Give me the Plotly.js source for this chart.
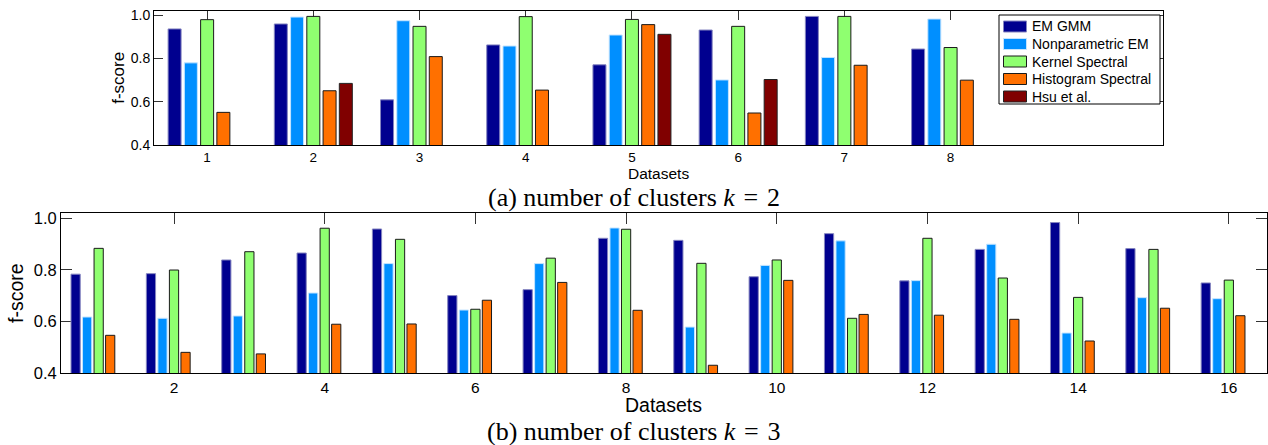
<!DOCTYPE html>
<html>
<head>
<meta charset="utf-8">
<script src="https://cdn.plot.ly/plotly-3.0.1.min.js"></script>
<style>
  html, body { margin: 0; padding: 0; background: #fff; }
  #chart { width: 1268px; height: 445px; }
</style>
</head>
<body>
<div id="chart"></div>
<script>
// ---------- data ----------
const seriesNames = ["EM GMM", "Nonparametric EM", "Kernel Spectral", "Histogram Spectral", "Hsu et al."];

// (a) k = 2
const datasetsA = [1, 2, 3, 4, 5, 6, 7, 8];
const emGmmA          = [0.937, 0.960, 0.609, 0.863, 0.771, 0.932, 0.995, 0.844];
const nonparamEmA     = [0.780, 0.992, 0.975, 0.858, 0.909, 0.701, 0.805, 0.983];
const kernelSpectralA = [0.980, 0.995, 0.949, 0.994, 0.981, 0.949, 0.995, 0.851];
const histSpectralA   = [0.551, 0.651, 0.809, 0.654, 0.957, 0.548, 0.769, 0.700];
const hsuA            = [0, 0.685, 0, 0, 0.912, 0.703, 0, 0];

// (b) k = 3
const datasetsB = [1, 2, 3, 4, 5, 6, 7, 8, 9, 10, 11, 12, 13, 14, 15, 16];
const emGmmB          = [0.783, 0.785, 0.838, 0.865, 0.958, 0.700, 0.723, 0.922, 0.914, 0.773, 0.940, 0.757, 0.879, 0.983, 0.882, 0.749];
const nonparamEmB     = [0.617, 0.612, 0.621, 0.710, 0.824, 0.644, 0.824, 0.962, 0.578, 0.817, 0.912, 0.758, 0.899, 0.555, 0.692, 0.688];
const kernelSpectralB = [0.883, 0.799, 0.870, 0.961, 0.918, 0.647, 0.845, 0.957, 0.825, 0.838, 0.612, 0.922, 0.768, 0.693, 0.879, 0.760];
const histSpectralB   = [0.546, 0.480, 0.474, 0.589, 0.590, 0.682, 0.751, 0.643, 0.430, 0.759, 0.627, 0.624, 0.608, 0.524, 0.651, 0.622];
const hsuB            = [0, 0, 0, 0, 0, 0, 0, 0, 0, 0, 0, 0, 0, 0, 0, 0];

// tick labels
const tickValsA = [1, 2, 3, 4, 5, 6, 7, 8];
const tickValsB = [2, 4, 6, 8, 10, 12, 14, 16];
const yTickVals = [0.4, 0.6, 0.8, 1.0];

// text
const yTitle = "f-score";
const xTitle = "Datasets";
const captionA = "(a) number of clusters <i>k</i>\u2004=\u20042";
const captionB = "(b) number of clusters <i>k</i>\u2004=\u20043";

// ---------- styling ----------
const fillColors = ["#00008F", "#008FFF", "#8FFF70", "#FF7000", "#800000"];
const edgeColors = ["#8585c0", "#c4e4ff", "#1a1a1a", "#1a1a1a", "#222222"];
const SANS = "Liberation Sans, Arial, Helvetica, sans-serif";
const SERIF = "Liberation Serif, Times New Roman, serif";

const W = 1268, H = 445;
const px = x => x / W;
const py = y => 1 - y / H;

const seriesA = [emGmmA, nonparamEmA, kernelSpectralA, histSpectralA, hsuA];
const seriesB = [emGmmB, nonparamEmB, kernelSpectralB, histSpectralB, hsuB];

const traces = [];
seriesA.forEach((vals, i) => {
  traces.push({
    type: "bar", x: datasetsA, y: vals, name: seriesNames[i],
    xaxis: "x", yaxis: "y", showlegend: false,
    marker: { color: fillColors[i], line: { color: edgeColors[i], width: 1 } },
    hoverinfo: "skip"
  });
});
seriesB.forEach((vals, i) => {
  traces.push({
    type: "bar", x: datasetsB, y: vals, name: seriesNames[i],
    xaxis: "x2", yaxis: "y2", showlegend: false,
    marker: { color: fillColors[i], line: { color: edgeColors[i], width: 1 } },
    hoverinfo: "skip"
  });
});

// ---------- legend (MATLAB-style box with wide swatches) ----------
const legBox = { x0: 999, x1: 1160, y0: 15, y1: 104 };
const legRow0 = 26.5, legRowStep = 17.5;
const shapes = [{
  type: "rect", xref: "paper", yref: "paper",
  x0: px(legBox.x0), x1: px(legBox.x1), y0: py(legBox.y1), y1: py(legBox.y0),
  line: { color: "#000", width: 1 }, fillcolor: "#fff", layer: "above"
}];
const annotations = [];
seriesNames.forEach((name, i) => {
  const cy = legRow0 + i * legRowStep;
  shapes.push({
    type: "rect", xref: "paper", yref: "paper",
    x0: px(1003.5), x1: px(1026.5), y0: py(cy + 5.5), y1: py(cy - 5.5),
    fillcolor: fillColors[i], line: { color: edgeColors[i], width: 1 }, layer: "above"
  });
  annotations.push({
    text: name, xref: "paper", yref: "paper", x: px(1029.5), y: py(cy),
    xanchor: "left", yanchor: "middle", showarrow: false,
    font: { family: SANS, size: 14, color: "#000" }
  });
});

annotations.push(
  { text: yTitle, xref: "paper", yref: "paper", x: px(118.3), y: py(77.5),
    xanchor: "center", yanchor: "middle", textangle: -90, showarrow: false,
    font: { family: SANS, size: 17 } },
  { text: xTitle, xref: "paper", yref: "paper", x: px(658.5), y: py(173),
    xanchor: "center", yanchor: "middle", showarrow: false,
    font: { family: SANS, size: 15.5 } },
  { text: captionA, xref: "paper", yref: "paper", x: px(633.5), y: py(197.5),
    xanchor: "center", yanchor: "middle", showarrow: false,
    font: { family: SERIF, size: 26 } },
  { text: yTitle, xref: "paper", yref: "paper", x: px(16), y: py(293),
    xanchor: "center", yanchor: "middle", textangle: -90, showarrow: false,
    font: { family: SANS, size: 19.5 } },
  { text: xTitle, xref: "paper", yref: "paper", x: px(663), y: py(405),
    xanchor: "center", yanchor: "middle", showarrow: false,
    font: { family: SANS, size: 19.5 } },
  { text: captionB, xref: "paper", yref: "paper", x: px(633.5), y: py(431),
    xanchor: "center", yanchor: "middle", showarrow: false,
    font: { family: SERIF, size: 26 } }
);

const axisCommon = {
  showline: true, linecolor: "#000", linewidth: 1, mirror: "ticks",
  ticks: "inside", tickcolor: "#333", tickwidth: 1,
  showgrid: false, zeroline: false, fixedrange: true,
  layer: "below traces"
};

const layout = {
  width: W, height: H,
  margin: { l: 0, r: 0, t: 0, b: 0, pad: 0 },
  paper_bgcolor: "#fff", plot_bgcolor: "#fff",
  font: { family: SANS, color: "#000" },
  barmode: "group", bargap: 0.235, bargroupgap: 0.2,
  showlegend: false,
  xaxis: Object.assign({}, axisCommon, {
    domain: [px(154), px(1163)], range: [0.5, 10], anchor: "y",
    tickmode: "array", tickvals: tickValsA, ticklen: 9,
    tickfont: { family: SANS, size: 13.5 }
  }),
  yaxis: Object.assign({}, axisCommon, {
    domain: [py(145), py(11)], range: [0.4, 1.02], anchor: "x",
    tickmode: "array", tickvals: yTickVals, tickformat: ".1f", ticklen: 9,
    tickfont: { family: SANS, size: 14 }
  }),
  xaxis2: Object.assign({}, axisCommon, {
    domain: [px(61), px(1266.5)], range: [0.5, 16.5], anchor: "y2",
    tickmode: "array", tickvals: tickValsB, ticklen: 11,
    tickfont: { family: SANS, size: 15.5 }
  }),
  yaxis2: Object.assign({}, axisCommon, {
    domain: [py(373), py(213)], range: [0.4, 1.02], anchor: "x2",
    tickmode: "array", tickvals: yTickVals, tickformat: ".1f", ticklen: 11,
    tickfont: { family: SANS, size: 16.5 }
  }),
  shapes: shapes,
  annotations: annotations
};

Plotly.newPlot("chart", traces, layout, { staticPlot: true, displayModeBar: false });
</script>
</body>
</html>
